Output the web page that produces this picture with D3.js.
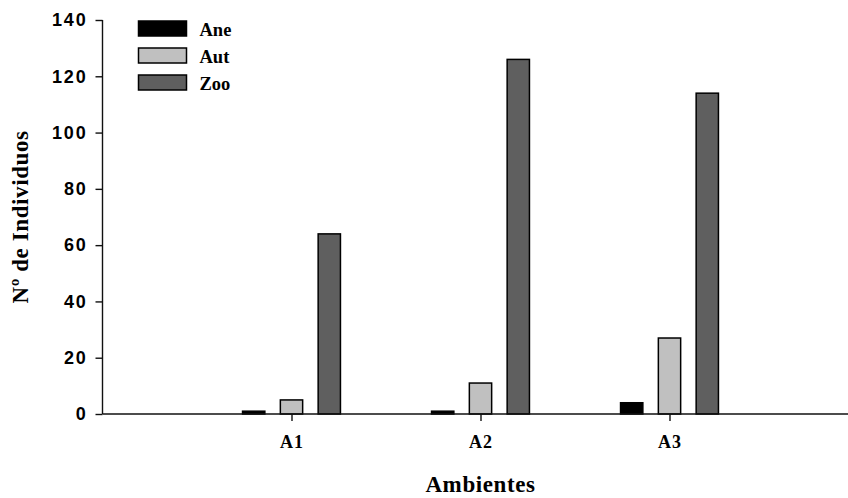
<!DOCTYPE html>
<html>
<head>
<meta charset="utf-8">
<script src="https://cdn.jsdelivr.net/npm/d3@7"></script>
<style>
  html, body { margin: 0; padding: 0; background: #fff; overflow: hidden; }
  svg { display: block; }
</style>
</head>
<body>
<svg id="chart" width="848" height="498"></svg>
<script>
// Environments (x categories) and individual counts per dispersal group
const ambientes = ["A1", "A2", "A3"];
const series = ["Ane", "Aut", "Zoo"];
const ane = [1, 1, 4];
const aut = [5, 11, 27];
const zoo = [64, 126, 114];
const yTicks = [0, 20, 40, 60, 80, 100, 120, 140];
const colors = ["#000000", "#c0c0c0", "#5f5f5f"];

const values = [ane, aut, zoo];

const svg = d3.select("#chart");

// x runs over category positions 0..4 with environments at 1, 2, 3
const x = d3.scaleLinear().domain([0, 4]).range([102.5, 858.5]);
const y = d3.scaleLinear().domain([0, 140]).range([414, 20]);

const offset = 0.2;     // spacing between bars of a group, in x units
const barW = 0.118;     // bar width, in x units

// bars
const g = svg.append("g");
series.forEach((s, si) => {
  g.selectAll(null)
    .data(ambientes.map((a, i) => ({ pos: i + 1, v: values[si][i] })))
    .join("rect")
    .attr("x", d => x(d.pos + (si - 1) * offset - barW / 2))
    .attr("width", x(barW) - x(0))
    .attr("y", d => y(d.v))
    .attr("height", d => y(0) - y(d.v))
    .attr("fill", colors[si])
    .attr("stroke", "#000")
    .attr("stroke-width", 1.5);
});

// y axis
const yAxis = d3.axisLeft(y).tickValues(yTicks).tickSize(7).tickPadding(8);
const ya = svg.append("g").attr("transform", `translate(${x(0)},0)`).call(yAxis);
ya.select(".domain").attr("stroke", "#111").attr("stroke-width", 1.4)
  .attr("d", `M0,${y(140)}V${y(0)}`);
ya.selectAll(".tick line").attr("stroke", "#111").attr("stroke-width", 1.4);
ya.selectAll(".tick text")
  .attr("font-family", "'Liberation Sans', Arial, sans-serif")
  .attr("font-weight", "bold")
  .attr("font-size", "18px")
  .attr("letter-spacing", "1.8px")
  .attr("fill", "#000");

// x axis
const xAxis = d3.axisBottom(x).tickValues([1, 2, 3])
  .tickFormat(d => ambientes[d - 1]).tickSize(7).tickPadding(14);
const xa = svg.append("g").attr("transform", `translate(0,${y(0)})`).call(xAxis);
xa.select(".domain").attr("stroke", "#111").attr("stroke-width", 1.4)
  .attr("d", `M${x(0)},0H${x(4)}`);
xa.selectAll(".tick line").attr("stroke", "#111").attr("stroke-width", 1.4);
xa.selectAll(".tick text")
  .attr("font-family", "'Liberation Serif', 'Times New Roman', serif")
  .attr("font-weight", "bold")
  .attr("font-size", "18px")
  .attr("letter-spacing", "1px")
  .attr("fill", "#000");

// axis titles
svg.append("text")
  .attr("x", (x(0) + x(4)) / 2)
  .attr("y", 492)
  .attr("text-anchor", "middle")
  .attr("font-family", "'Liberation Serif', 'Times New Roman', serif")
  .attr("font-weight", "bold")
  .attr("font-size", "23px")
  .attr("letter-spacing", "0.6px")
  .text("Ambientes");

svg.append("text")
  .attr("transform", `translate(28,${(y(0) + y(140)) / 2}) rotate(-90)`)
  .attr("text-anchor", "middle")
  .attr("font-family", "'Liberation Serif', 'Times New Roman', serif")
  .attr("font-weight", "bold")
  .attr("font-size", "23px")
  .attr("letter-spacing", "0.6px")
  .text("Nº de Individuos");

// legend
const legend = svg.append("g").attr("transform", "translate(138.5,21)");
series.forEach((s, i) => {
  const row = legend.append("g").attr("transform", `translate(0,${i * 27})`);
  row.append("rect")
    .attr("width", 48).attr("height", 15)
    .attr("fill", colors[i])
    .attr("stroke", "#000").attr("stroke-width", 1.5);
  row.append("text")
    .attr("x", 61).attr("y", 14.5)
    .attr("font-family", "'Liberation Serif', 'Times New Roman', serif")
    .attr("font-weight", "bold")
    .attr("font-size", "18.5px")
    .text(s);
});
</script>
</body>
</html>
